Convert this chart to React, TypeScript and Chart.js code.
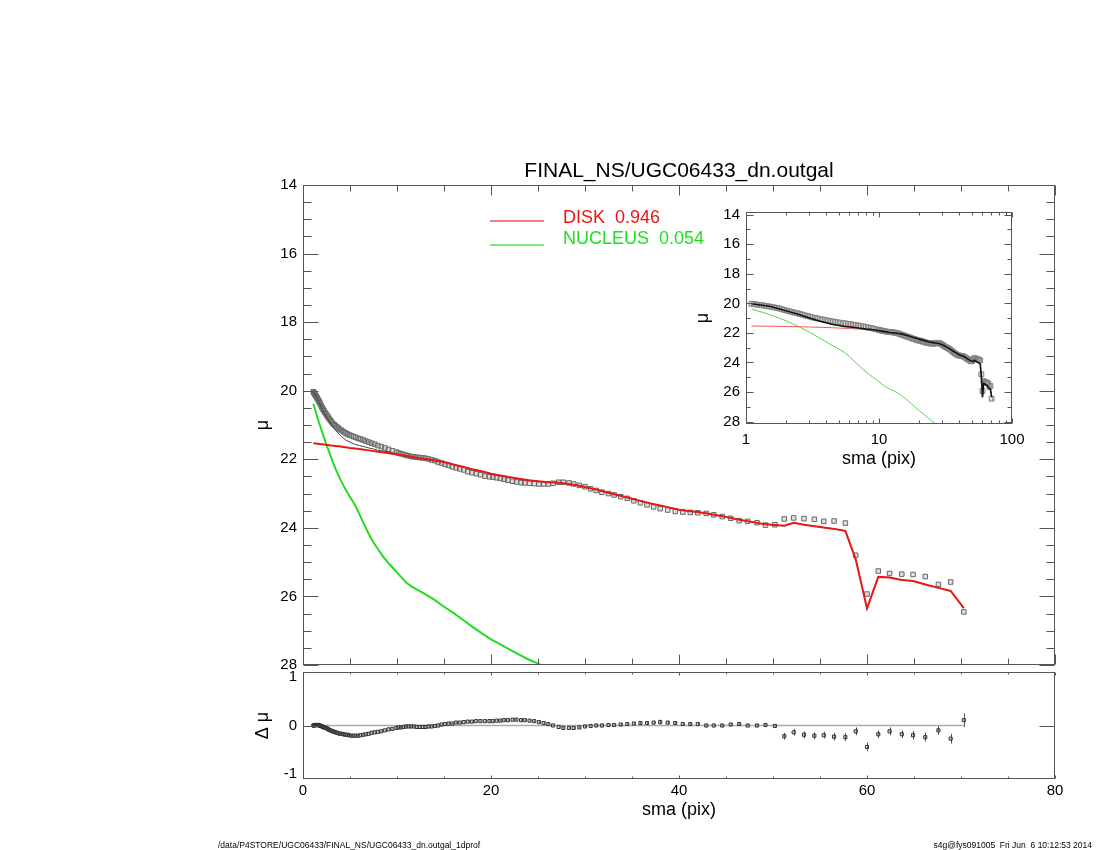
import { useEffect, useRef } from 'react';
import { Chart, registerables } from 'chart.js';

Chart.register(...registerables);

// ---------------- data ----------------
const sma = [
  1.10, 1.15, 1.20, 1.255, 1.31, 1.37, 1.43, 1.50, 1.56, 1.63, 1.71, 1.785, 1.865, 1.95, 2.04, 2.13, 2.22, 2.32, 2.43, 2.54,
  2.65, 2.77, 2.90, 3.03, 3.16, 3.31, 3.45, 3.61, 3.77, 3.94, 4.12, 4.31, 4.50, 4.70, 4.91, 5.13, 5.37, 5.61, 5.86, 6.12,
  6.40, 6.69, 6.99, 7.30, 7.63, 7.97, 8.33, 8.71, 9.10, 9.51, 9.94,
  10.18, 10.44, 10.70, 10.97, 11.24, 11.52, 11.81, 12.10, 12.41, 12.72, 13.03, 13.36, 13.69, 14.03, 14.38, 14.74, 15.11, 15.49, 15.88, 16.28,
  16.68, 17.10, 17.53, 17.97, 18.42, 18.88, 19.35, 19.83,
  20.2, 20.6, 21.0, 21.4, 21.8, 22.3, 22.7, 23.2, 23.6, 24.1, 24.6, 25.1, 25.6, 26.1, 26.6, 27.2, 27.7, 28.3, 28.8, 29.4,
  30.0, 30.6, 31.2, 31.8, 32.5, 33.1, 33.8, 34.5, 35.2, 35.9, 36.6, 37.3, 38.0, 38.8, 39.6, 40.4, 41.2, 42.0, 42.9, 43.7,
  44.6, 45.5, 46.4, 47.3, 48.3, 49.2, 50.2,
  51.2, 52.2, 53.3, 54.4, 55.4, 56.5, 57.7, 58.8, 60.0, 61.2, 62.4, 63.7, 64.9, 66.2, 67.6, 68.9, 70.3,
];

const muData = [
  20.03, 20.05, 20.08, 20.10, 20.13, 20.15, 20.18, 20.21, 20.24, 20.27, 20.31, 20.35, 20.40, 20.45, 20.50, 20.54, 20.58, 20.63, 20.67, 20.72,
  20.76, 20.81, 20.86, 20.90, 20.95, 20.99, 21.02, 21.06, 21.09, 21.13, 21.16, 21.20, 21.23, 21.26, 21.29, 21.31, 21.34, 21.36, 21.39, 21.41,
  21.44, 21.47, 21.50, 21.53, 21.56, 21.60, 21.63, 21.67, 21.71, 21.75, 21.79,
  21.82, 21.84, 21.86, 21.88, 21.90, 21.92, 21.93, 21.94, 21.95, 21.96, 21.97, 21.99, 22.02, 22.04, 22.08, 22.11, 22.15, 22.18, 22.22, 22.25,
  22.28, 22.31, 22.36, 22.39, 22.42, 22.45, 22.49, 22.51,
  22.52, 22.54, 22.56, 22.58, 22.61, 22.64, 22.66, 22.68, 22.69, 22.70, 22.71, 22.72, 22.72, 22.72, 22.70, 22.67, 22.67, 22.69, 22.72, 22.76,
  22.80, 22.86, 22.91, 22.96, 23.00, 23.04, 23.09, 23.14, 23.21, 23.27, 23.33, 23.39, 23.44, 23.48, 23.52, 23.54, 23.55, 23.56, 23.58, 23.62,
  23.67, 23.72, 23.79, 23.81, 23.85, 23.92, 23.91,
  23.74, 23.71, 23.73, 23.75, 23.81, 23.80, 23.86, 24.80, 25.93, 25.26, 25.33, 25.35, 25.36, 25.42, 25.65, 25.58, 26.45,
];

const muResid = [
  0.00, 0.00, 0.00, 0.01, 0.01, 0.01, 0.01, 0.01, 0.01, 0.01, 0.00, 0.00, -0.01, -0.01, -0.02, -0.03, -0.04, -0.04, -0.05, -0.06,
  -0.07, -0.09, -0.10, -0.11, -0.12, -0.13, -0.14, -0.15, -0.16, -0.17, -0.17, -0.18, -0.19, -0.19, -0.20, -0.21, -0.21, -0.21, -0.21, -0.20,
  -0.19, -0.18, -0.17, -0.15, -0.14, -0.13, -0.12, -0.10, -0.08, -0.07, -0.05,
  -0.04, -0.04, -0.03, -0.02, -0.02, -0.02, -0.02, -0.03, -0.03, -0.03, -0.03, -0.02, -0.02, -0.01, 0.00, 0.02, 0.03, 0.04, 0.04, 0.06,
  0.06, 0.07, 0.08, 0.08, 0.09, 0.09, 0.09, 0.09,
  0.09, 0.10, 0.10, 0.11, 0.11, 0.12, 0.12, 0.11, 0.11, 0.10, 0.09, 0.07, 0.05, 0.03, 0.00, -0.03, -0.05, -0.05, -0.05, -0.04,
  -0.02, -0.01, 0.00, 0.00, 0.01, 0.01, 0.02, 0.03, 0.04, 0.05, 0.05, 0.06, 0.07, 0.06, 0.05, 0.03, 0.03, 0.03, 0.00, 0.00,
  0.00, 0.02, 0.03, 0.00, 0.00, 0.01, -0.01,
  -0.22, -0.14, -0.19, -0.21, -0.20, -0.23, -0.24, -0.12, -0.44, -0.18, -0.12, -0.18, -0.20, -0.24, -0.10, -0.27, 0.11,
];

const muErr = [
  0.01, 0.01, 0.01, 0.01, 0.01, 0.01, 0.01, 0.01, 0.01, 0.01, 0.01, 0.01, 0.01, 0.01, 0.01, 0.01, 0.01, 0.01, 0.01, 0.01,
  0.01, 0.01, 0.01, 0.01, 0.01, 0.01, 0.01, 0.01, 0.01, 0.01, 0.01, 0.01, 0.01, 0.01, 0.01, 0.01, 0.01, 0.01, 0.01, 0.01,
  0.01, 0.01, 0.01, 0.01, 0.01, 0.01, 0.01, 0.01, 0.01, 0.01, 0.01,
  0.01, 0.01, 0.01, 0.01, 0.01, 0.01, 0.01, 0.01, 0.01, 0.01, 0.01, 0.01, 0.01, 0.01, 0.01, 0.01, 0.01, 0.01, 0.01, 0.01,
  0.01, 0.01, 0.01, 0.01, 0.01, 0.01, 0.01, 0.01,
  0.015, 0.015, 0.015, 0.015, 0.015, 0.015, 0.015, 0.015, 0.015, 0.015, 0.015, 0.015, 0.015, 0.015, 0.015, 0.015, 0.015, 0.015, 0.015, 0.015,
  0.02, 0.02, 0.02, 0.02, 0.02, 0.02, 0.02, 0.02, 0.02, 0.02, 0.02, 0.03, 0.05, 0.03, 0.03, 0.03, 0.03, 0.03, 0.03, 0.03,
  0.03, 0.03, 0.03, 0.03, 0.03, 0.03, 0.03,
  0.07, 0.07, 0.07, 0.07, 0.07, 0.08, 0.08, 0.08, 0.09, 0.08, 0.08, 0.08, 0.09, 0.09, 0.09, 0.10, 0.14,
];

const diskSma = [
  1.1, 2, 3, 4, 5, 6, 7, 8, 9, 10, 11, 12, 13, 14, 15, 16, 17, 18, 19, 20, 21, 22, 23, 24, 25, 26, 27, 28, 29, 30,
  31, 32, 33, 34, 35, 36, 37, 38, 39, 40, 41, 42, 43, 44, 45, 46, 47, 48, 49, 50.2,
  51.2, 52.2, 53.3, 54.4, 55.4, 56.5, 57.7, 58.8, 60.0, 61.2, 62.4, 63.7, 64.9, 66.2, 67.6, 68.9, 70.3,
];
const diskMu = [
  21.53, 21.56, 21.60, 21.63, 21.67, 21.70, 21.74, 21.78, 21.82, 21.86, 21.90, 21.95, 21.99, 22.03, 22.08, 22.15, 22.22, 22.29, 22.35, 22.42, 22.47, 22.52, 22.57, 22.61, 22.64, 22.67, 22.68, 22.71, 22.75, 22.81,
  22.87, 22.94, 23.01, 23.08, 23.15, 23.22, 23.29, 23.35, 23.41, 23.47, 23.51, 23.54, 23.58, 23.63, 23.68, 23.74, 23.79, 23.84, 23.89, 23.92,
  23.94, 23.85, 23.91, 23.95, 23.99, 24.03, 24.09, 24.92, 26.35, 25.43, 25.45, 25.52, 25.55, 25.65, 25.75, 25.84, 26.34,
];

const modelSma = [
  1.1, 1.5, 2.0, 2.5, 3.0, 3.5, 4.0, 4.5, 5.0, 5.5, 6.0, 6.5, 7.0, 7.5, 8.0, 8.5, 9.0, 10, 11, 12, 13,
  14, 15, 16, 17, 18, 19, 20, 21, 22, 23, 24, 25, 26, 27, 28, 29, 30, 31, 32, 33, 34, 35, 36, 37, 38, 39, 40, 41, 42, 43, 44, 45, 46, 47, 48, 49, 50.2,
  51.2, 52.2, 53.3, 54.4, 55.4, 56.5, 57.7, 58.8, 60.0, 61.2, 62.4, 63.7, 64.9, 66.2, 67.6, 68.9, 70.3,
];
const modelMu = [
  20.03, 20.20, 20.50, 20.76, 20.99, 21.17, 21.31, 21.43, 21.50, 21.56, 21.60, 21.63, 21.67, 21.70, 21.74, 21.76, 21.78, 21.85, 21.91, 21.97, 22.00,
  22.04, 22.08, 22.15, 22.22, 22.29, 22.35, 22.42, 22.47, 22.52, 22.57, 22.61, 22.64, 22.67, 22.68, 22.71, 22.75, 22.81, 22.87, 22.94, 23.01, 23.08, 23.15, 23.22, 23.29, 23.35, 23.41, 23.47, 23.51, 23.54, 23.58, 23.63, 23.68, 23.74, 23.79, 23.84, 23.89, 23.92,
  23.94, 23.85, 23.91, 23.95, 23.99, 24.03, 24.09, 24.92, 26.35, 25.43, 25.45, 25.52, 25.55, 25.65, 25.75, 25.84, 26.34,
];

const nucSma = [1.1, 1.5, 2, 2.5, 3, 3.5, 4, 4.5, 5, 5.5, 6, 6.5, 7, 7.5, 8, 8.5, 9, 9.5, 10, 10.5, 11, 11.5, 12, 13, 14, 15, 16, 17, 18, 19, 20, 21, 22, 23, 24, 25, 26, 27];
const nucMu = [20.38, 20.75, 21.18, 21.58, 21.95, 22.30, 22.60, 22.87, 23.10, 23.32, 23.60, 23.90, 24.18, 24.43, 24.63, 24.83, 25.00, 25.15, 25.30, 25.45, 25.60, 25.70, 25.78, 25.93, 26.10, 26.30, 26.48, 26.68, 26.88, 27.07, 27.25, 27.40, 27.55, 27.70, 27.84, 27.96, 28.08, 28.20];

// tick values / labels
const mainYTicks = [14, 16, 18, 20, 22, 24, 26, 28];
const mainYMinor = [14.5, 15, 15.5, 16.5, 17, 17.5, 18.5, 19, 19.5, 20.5, 21, 21.5, 22.5, 23, 23.5, 24.5, 25, 25.5, 26.5, 27, 27.5];
const mainXTicks = [0, 20, 40, 60, 80];
const mainXMinor = [5, 10, 15, 25, 30, 35, 45, 50, 55, 65, 70, 75];
const resYTicks = [-1, 0, 1];
const insetXTicks = [1, 10, 100];
const insetXMinor = [2, 3, 4, 5, 6, 7, 8, 9, 20, 30, 40, 50, 60, 70, 80, 90];
const insetYTicks = [14, 16, 18, 20, 22, 24, 26, 28];
const insetYMinor = [15, 17, 19, 21, 23, 25, 27];

const titleText = 'FINAL_NS/UGC06433_dn.outgal';
const legendDisk = 'DISK  0.946';
const legendNucleus = 'NUCLEUS  0.054';
const footerLeft = '/data/P4STORE/UGC06433/FINAL_NS/UGC06433_dn.outgal_1dprof';
const footerRight = 's4g@fys091005  Fri Jun  6 10:12:53 2014';

// ---------------- styling ----------------
const FONT = "'Liberation Sans', Arial, Helvetica, sans-serif";
const RED = 'rgb(232,24,24)';
const GREEN = 'rgb(34,220,34)';
const FRAME = '#555';

Chart.defaults.font.family = FONT;
Chart.defaults.font.size = 15;
Chart.defaults.color = '#000';

const pts = (xs: number[], ys: number[]) => xs.map((x, i) => ({ x, y: ys[i] }));

type TickSpec = { vals: number[]; len: number };
type FrameSpec = { x: TickSpec[]; y: TickSpec[] };

function makeFrame(spec: FrameSpec) {
  return {
    id: 'frameTicks',
    beforeDatasetsDraw(chart: any) {
      const { ctx, scales } = chart;
      chart.data.datasets.forEach((ds: any) => {
        const err: number[] | undefined = ds.errorBars;
        if (!err) return;
        ctx.save();
        ctx.strokeStyle = ds.errorColor || '#777';
        ctx.lineWidth = 1;
        ctx.beginPath();
        ds.data.forEach((p: any, j: number) => {
          const e = err[j];
          if (e == null) return;
          const x = Math.round(scales.x.getPixelForValue(p.x)) + 0.5;
          ctx.moveTo(x, scales.y.getPixelForValue(p.y - e));
          ctx.lineTo(x, scales.y.getPixelForValue(p.y + e));
        });
        ctx.stroke();
        ctx.restore();
      });
    },
    afterDatasetsDraw(chart: any) {
      const { ctx, chartArea: a, scales } = chart;
      const L = Math.round(a.left) + 0.5;
      const R = Math.round(a.right) - 0.5;
      const T = Math.round(a.top) + 0.5;
      const B = Math.round(a.bottom) - 0.5;
      ctx.save();
      ctx.strokeStyle = FRAME;
      ctx.lineWidth = 1;
      ctx.strokeRect(L, T, R - L, B - T);
      ctx.beginPath();
      spec.x.forEach(({ vals, len }) => {
        vals.forEach((v) => {
          const px = Math.round(scales.x.getPixelForValue(v)) + 0.5;
          ctx.moveTo(px, B);
          ctx.lineTo(px, B - len);
          ctx.moveTo(px, T);
          ctx.lineTo(px, T + len);
        });
      });
      spec.y.forEach(({ vals, len }) => {
        vals.forEach((v) => {
          const py = Math.round(scales.y.getPixelForValue(v)) + 0.5;
          ctx.moveTo(L, py);
          ctx.lineTo(L + len, py);
          ctx.moveTo(R, py);
          ctx.lineTo(R - len, py);
        });
      });
      ctx.stroke();
      ctx.restore();
    },
  };
}

const noPlugins = {
  legend: { display: false },
  tooltip: { enabled: false },
  title: { display: false },
};

const fixedTicks = (vals: number[]) => (s: any) => {
  s.ticks = vals.map((v) => ({ value: v }));
};

function mainConfig(): any {
  return {
    type: 'scatter',
    data: {
      datasets: [
        { label: 'DISK', data: pts(diskSma, diskMu), showLine: true, borderColor: RED, borderWidth: 2, pointRadius: 0 },
        { label: 'NUCLEUS', data: pts(nucSma, nucMu), showLine: true, borderColor: GREEN, borderWidth: 2, pointRadius: 0 },
        { label: 'model', data: pts(modelSma, modelMu), showLine: true, borderColor: '#444', borderWidth: 1, pointRadius: 0 },
        {
          label: 'data', data: pts(sma, muData), showLine: false, pointStyle: 'rect', pointRadius: 3.2,
          borderColor: '#666', borderWidth: 1, backgroundColor: 'rgba(150,150,150,0.3)',
        },
      ],
    },
    options: {
      responsive: false,
      animation: false,
      events: [],
      layout: { padding: { left: 248, right: 45, top: 185, bottom: 185 } },
      plugins: noPlugins,
      scales: {
        x: { type: 'linear', min: 0, max: 80, display: false },
        y: {
          type: 'linear', min: 14, max: 28, reverse: true,
          afterBuildTicks: fixedTicks(mainYTicks),
          afterFit: (s: any) => { s.width = 55; },
          grid: { display: false, drawTicks: false },
          border: { display: false },
          ticks: { padding: 6, font: { size: 15 }, color: '#000' },
          title: { display: true, text: 'μ', font: { size: 18 }, color: '#000' },
        },
      },
    },
    plugins: [makeFrame({
      x: [{ vals: mainXTicks, len: 10 }, { vals: mainXMinor, len: 6 }],
      y: [{ vals: mainYTicks, len: 15 }, { vals: mainYMinor, len: 8 }],
    })],
  };
}

function residConfig(): any {
  return {
    type: 'scatter',
    data: {
      datasets: [
        {
          label: 'resid', data: pts(sma, muResid), showLine: false, pointStyle: 'rect', pointRadius: 2.2,
          borderColor: '#333', borderWidth: 1, backgroundColor: 'rgba(140,140,140,0.35)',
          errorBars: muErr, errorColor: '#555',
        },
        {
          label: 'zero',
          data: [{ x: sma[0], y: 0 }, { x: sma[sma.length - 1], y: 0 }],
          showLine: true, borderColor: '#aaa', borderWidth: 1.6, pointRadius: 0,
        },
      ],
    },
    options: {
      responsive: false,
      animation: false,
      events: [],
      layout: { padding: { left: 248, right: 45, top: 672, bottom: 25 } },
      plugins: noPlugins,
      scales: {
        x: {
          type: 'linear', min: 0, max: 80,
          afterBuildTicks: fixedTicks(mainXTicks),
          afterFit: (s: any) => { s.height = 46; },
          grid: { display: false, drawTicks: false },
          border: { display: false },
          ticks: { padding: 3, font: { size: 15 }, color: '#000', maxRotation: 0 },
          title: { display: true, text: 'sma (pix)', font: { size: 18 }, color: '#000' },
        },
        y: {
          type: 'linear', min: -1.1, max: 1.1,
          afterBuildTicks: fixedTicks(resYTicks),
          afterFit: (s: any) => { s.width = 55; },
          grid: { display: false, drawTicks: false },
          border: { display: false },
          ticks: { padding: 6, font: { size: 15 }, color: '#000' },
          title: { display: true, text: 'Δ μ', font: { size: 18 }, color: '#000' },
        },
      },
    },
    plugins: [makeFrame({
      x: [{ vals: mainXTicks, len: 3 }, { vals: mainXMinor, len: 2 }],
      y: [{ vals: [0], len: 15 }],
    })],
  };
}

function insetConfig(): any {
  return {
    type: 'scatter',
    data: {
      datasets: [
        { label: 'model', data: pts(modelSma, modelMu), showLine: true, borderColor: '#111', borderWidth: 1.6, pointRadius: 0 },
        {
          label: 'data', data: pts(sma, muData), showLine: false, pointStyle: 'rect', pointRadius: 3.4,
          borderColor: '#808080', borderWidth: 1, backgroundColor: 'rgba(170,170,170,0.35)',
          errorBars: muErr, errorColor: '#888',
        },
        { label: 'DISK', data: pts(diskSma, diskMu), showLine: true, borderColor: 'rgb(240,90,90)', borderWidth: 1, pointRadius: 0 },
        { label: 'NUCLEUS', data: pts(nucSma, nucMu), showLine: true, borderColor: 'rgb(80,215,80)', borderWidth: 1, pointRadius: 0 },
      ],
    },
    options: {
      responsive: false,
      animation: false,
      events: [],
      layout: { padding: { left: 688, right: 88, top: 212, bottom: 376 } },
      plugins: noPlugins,
      scales: {
        x: {
          type: 'logarithmic', min: 1, max: 100,
          afterBuildTicks: fixedTicks(insetXTicks),
          afterFit: (s: any) => { s.height = 50; },
          grid: { display: false, drawTicks: false },
          border: { display: false },
          ticks: { padding: 7, font: { size: 15 }, color: '#000', maxRotation: 0, callback: (v: any) => String(v) },
          title: { display: true, text: 'sma (pix)', font: { size: 18 }, color: '#000' },
        },
        y: {
          type: 'linear', min: 13.82, max: 28.16, reverse: true,
          afterBuildTicks: fixedTicks(insetYTicks),
          afterFit: (s: any) => { s.width = 58; },
          grid: { display: false, drawTicks: false },
          border: { display: false },
          ticks: { padding: 6, font: { size: 15 }, color: '#000' },
          title: { display: true, text: 'μ', font: { size: 18 }, color: '#000' },
        },
      },
    },
    plugins: [makeFrame({
      x: [{ vals: insetXTicks, len: 5 }, { vals: insetXMinor, len: 3 }],
      y: [{ vals: insetYTicks, len: 7 }, { vals: insetYMinor, len: 4 }],
    })],
  };
}

const canvasStyle: any = { position: 'absolute', left: 0, top: 0, width: 1100, height: 850 };

export default function App() {
  const mainRef = useRef<HTMLCanvasElement>(null);
  const resRef = useRef<HTMLCanvasElement>(null);
  const insetRef = useRef<HTMLCanvasElement>(null);

  useEffect(() => {
    const charts: Chart[] = [];
    if (mainRef.current) charts.push(new Chart(mainRef.current, mainConfig()));
    if (resRef.current) charts.push(new Chart(resRef.current, residConfig()));
    if (insetRef.current) charts.push(new Chart(insetRef.current, insetConfig()));
    return () => charts.forEach((c) => c.destroy());
  }, []);

  return (
    <div style={{ position: 'absolute', left: 0, top: 0, width: 1100, height: 850, background: '#fff', fontFamily: FONT, overflow: 'hidden' }}>
      <canvas ref={mainRef} width={1100} height={850} style={canvasStyle} />
      <canvas ref={resRef} width={1100} height={850} style={canvasStyle} />
      <canvas ref={insetRef} width={1100} height={850} style={canvasStyle} />

      <div style={{ position: 'absolute', left: 303, top: 157, width: 752, textAlign: 'center', fontSize: 21, lineHeight: '25px', color: '#000', whiteSpace: 'pre' }}>{titleText}</div>

      <div style={{ position: 'absolute', left: 490, top: 220, width: 54, height: 2, background: 'rgb(250,125,125)' }} />
      <div style={{ position: 'absolute', left: 490, top: 244, width: 54, height: 2, background: 'rgb(125,235,125)' }} />
      <div style={{ position: 'absolute', left: 563, top: 206, fontSize: 18, lineHeight: '22px', color: 'rgb(236,20,20)', whiteSpace: 'pre' }}>{legendDisk}</div>
      <div style={{ position: 'absolute', left: 563, top: 227, fontSize: 18, lineHeight: '22px', color: 'rgb(30,225,30)', whiteSpace: 'pre' }}>{legendNucleus}</div>

      <div style={{ position: 'absolute', left: 218, top: 840, fontSize: 8.5, lineHeight: '10px', color: '#000', whiteSpace: 'pre' }}>{footerLeft}</div>
      <div style={{ position: 'absolute', right: 8, top: 840, fontSize: 8.5, lineHeight: '10px', color: '#000', whiteSpace: 'pre', textAlign: 'right' }}>{footerRight}</div>
    </div>
  );
}
